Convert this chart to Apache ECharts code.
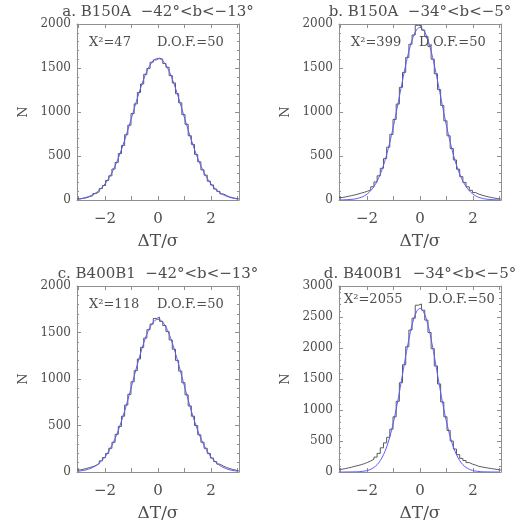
<!DOCTYPE html>
<html>
<head>
<meta charset="utf-8">
<script src="https://cdn.jsdelivr.net/npm/echarts@6/dist/echarts.min.js"></script>
<style>
  html, body { margin: 0; padding: 0; background: #fff; }
  #main { width: 523px; height: 523px; }
</style>
</head>
<body>
<div id="main"></div>
<script>
/*------------ data ------------
binCenters : bin centres of dT/sigma (51 bins, width 0.12)
histX      : histogram counts per bin
fitX       : gaussian fit at the bin centres
-------------------------------------------------------*/
var binCenters = [-3.00,-2.88,-2.76,-2.64,-2.52,-2.40,-2.28,-2.16,-2.04,-1.92,-1.80,-1.68,-1.56,-1.44,-1.32,-1.20,-1.08,-0.96,-0.84,-0.72,-0.60,-0.48,-0.36,-0.24,-0.12,
                  0.00,0.12,0.24,0.36,0.48,0.60,0.72,0.84,0.96,1.08,1.20,1.32,1.44,1.56,1.68,1.80,1.92,2.04,2.16,2.28,2.40,2.52,2.64,2.76,2.88,3.00];
var xRange = [-3.06, 3.06];

var histA = [12,19,25,38,50,73,94,130,165,222,275,352,427,528,620,742,850,982,1092,1222,1318,1428,1495,1566,1592,
             1612,
             1600,1552,1508,1414,1330,1208,1104,970,860,730,632,518,434,343,282,214,171,125,98,69,53,35,27,17,13];
var fitA  = [12,18,26,37,51,71,96,128,168,218,278,348,430,523,626,737,855,976,1098,1215,1324,1421,1501,1560,1597,
             1610,
             1597,1560,1501,1421,1324,1215,1098,976,855,737,626,523,430,348,278,218,168,128,96,71,51,37,26,18,12];

var histB = [28,35,42,50,58,68,78,88,100,115,150,205,275,360,470,600,745,915,1090,1280,1450,1620,1770,1875,1985,
             1980,
             1930,1860,1745,1600,1435,1255,1075,900,730,585,455,350,265,200,150,110,85,68,55,45,36,28,22,16,11];
var fitB  = [1,2,3,6,9,15,25,38,59,88,128,181,252,341,451,583,734,902,1082,1267,1448,1616,1759,1869,1938,
             1962,
             1938,1869,1759,1616,1448,1267,1082,902,734,583,451,341,252,181,128,88,59,38,25,15,9,6,3,2,1];

var histC = [22,30,38,48,58,70,90,120,155,200,255,320,405,490,600,720,835,970,1090,1215,1340,1440,1530,1590,1650,
             1665,
             1620,1575,1510,1420,1320,1200,1085,960,830,710,600,500,400,320,255,200,150,112,85,65,50,38,28,20,12];
var fitC  = [9,14,20,29,42,59,81,111,148,195,253,321,402,496,600,715,837,964,1093,1217,1334,1438,1524,1589,1629,
             1643,
             1629,1589,1524,1438,1334,1217,1093,964,837,715,600,496,402,321,253,195,148,111,81,59,42,29,20,14,9];

var histD = [45,55,66,78,92,104,118,135,155,178,205,240,300,390,470,560,690,890,1140,1440,1730,2020,2290,2480,2690,
             2710,
             2610,2450,2250,1990,1710,1420,1130,890,670,500,370,280,220,185,152,128,112,92,82,72,64,55,47,40,32];
var fitD  = [0,0,0,1,2,3,6,11,19,34,57,93,148,227,336,480,664,887,1146,1429,1724,2010,2265,2466,2595,
             2640,
             2595,2466,2265,2010,1724,1429,1146,887,664,480,336,227,148,93,57,34,19,11,6,3,2,1,0,0,0];

var titles   = ['a. B150A  \u221242\u00b0<b<\u221213\u00b0', 'b. B150A  \u221234\u00b0<b<\u22125\u00b0',
                'c. B400B1  \u221242\u00b0<b<\u221213\u00b0', 'd. B400B1  \u221234\u00b0<b<\u22125\u00b0'];
var chiSq    = [47, 399, 118, 2055];
var dof      = [50, 50, 50, 50];
var yMaxes   = [2000, 2000, 2000, 3000];
var xTicks   = [-3, -2, -1, 0, 1, 2, 3];
var xLabels  = [-2, 0, 2];

var FONT = 'DejaVu Serif';
var TEXT_COLOR = '#4d4d4d';
var AXIS_COLOR = '#8f8f8f';
var HIST_COLOR = '#5a5a5a';
var FIT_COLOR = '#5b5bff';

// grid boxes (px) and positions of the in-plot texts
var layout = [
    {grid: {left: 77,  top: 24,  width: 162, height: 176}, cx: 158, ty: 12,  ay: 43,  chiX: 89,  dofX: 157},
    {grid: {left: 339, top: 24,  width: 162, height: 176}, cx: 420, ty: 12,  ay: 43,  chiX: 351, dofX: 419},
    {grid: {left: 77,  top: 286, width: 162, height: 187}, cx: 158, ty: 274, ay: 305, chiX: 89,  dofX: 157},
    {grid: {left: 339, top: 286, width: 162, height: 188}, cx: 420, ty: 274, ay: 300, chiX: 344, dofX: 428}
];
var hists = [histA, histB, histC, histD];
var fits  = [fitA, fitB, fitC, fitD];

function minusFmt(v){
    return v < 0 ? '\u2212' + Math.abs(v) : String(v);
}

function pairs(values, padEdges){
    var out = [];
    if (padEdges) out.push([xRange[0], values[0]]);
    for (var i = 0; i < binCenters.length; i++) out.push([binCenters[i], values[i]]);
    if (padEdges) out.push([xRange[1], values[values.length - 1]]);
    return out;
}

var chart = echarts.init(document.getElementById('main'));
var option = {
    backgroundColor: '#fff',
    animation: false,
    grid: [], xAxis: [], yAxis: [], series: [], graphic: []
};

for (var p = 0; p < 4; p++) {
    var L = layout[p];
    option.grid.push(L.grid);
    // bottom + top x axes
    option.xAxis.push({
        type: 'value', gridIndex: p, min: xRange[0], max: xRange[1], position: 'bottom',
        name: '\u0394T/\u03c3', nameLocation: 'middle', nameGap: 33,
        nameTextStyle: {fontFamily: FONT, fontSize: 17, color: TEXT_COLOR},
        axisLine: {onZero: false, lineStyle: {color: AXIS_COLOR, width: 1}},
        axisTick: {inside: true, length: 4, customValues: xTicks, lineStyle: {color: AXIS_COLOR}},
        axisLabel: {customValues: xLabels, formatter: minusFmt, margin: 12,
                    fontFamily: FONT, fontSize: 15, color: TEXT_COLOR},
        splitLine: {show: false}
    });
    option.xAxis.push({
        type: 'value', gridIndex: p, min: xRange[0], max: xRange[1], position: 'top',
        axisLine: {onZero: false, lineStyle: {color: AXIS_COLOR, width: 1}},
        axisTick: {inside: true, length: 4, customValues: xTicks, lineStyle: {color: AXIS_COLOR}},
        axisLabel: {show: false},
        splitLine: {show: false}
    });
    // left + right y axes
    option.yAxis.push({
        type: 'value', gridIndex: p, min: 0, max: yMaxes[p], interval: 500, position: 'left',
        name: 'N', nameLocation: 'middle', nameGap: 47, nameRotate: 90,
        nameTextStyle: {fontFamily: FONT, fontSize: 13, color: TEXT_COLOR},
        axisLine: {show: true, onZero: false, lineStyle: {color: AXIS_COLOR, width: 1}},
        axisTick: {show: true, inside: true, length: 4, lineStyle: {color: AXIS_COLOR}},
        minorTick: {show: true, splitNumber: 5, length: 2, lineStyle: {color: AXIS_COLOR}},
        axisLabel: {margin: 6, fontFamily: FONT, fontSize: 12, color: TEXT_COLOR,
                    formatter: function (v) { return String(v); }},
        splitLine: {show: false}
    });
    option.yAxis.push({
        type: 'value', gridIndex: p, min: 0, max: yMaxes[p], interval: 500, position: 'right',
        axisLine: {show: true, onZero: false, lineStyle: {color: AXIS_COLOR, width: 1}},
        axisTick: {show: true, inside: true, length: 4, lineStyle: {color: AXIS_COLOR}},
        minorTick: {show: true, splitNumber: 5, length: 2, lineStyle: {color: AXIS_COLOR}},
        axisLabel: {show: false},
        splitLine: {show: false}
    });

    option.series.push({
        name: 'hist', type: 'line', step: 'middle',
        xAxisIndex: 2 * p, yAxisIndex: 2 * p,
        showSymbol: false, silent: true,
        lineStyle: {color: HIST_COLOR, width: 1},
        data: pairs(hists[p], true)
    });
    option.series.push({
        name: 'fit', type: 'line', smooth: 0.3,
        xAxisIndex: 2 * p, yAxisIndex: 2 * p,
        showSymbol: false, silent: true,
        lineStyle: {color: FIT_COLOR, width: 1},
        data: pairs(fits[p], false)
    });

    // panel title and chi-square / d.o.f. notes
    option.graphic.push({
        type: 'text', x: L.cx, y: L.ty,
        style: {text: titles[p], textAlign: 'center', textVerticalAlign: 'middle',
                fontFamily: FONT, fontSize: 15, fill: TEXT_COLOR}
    });
    option.graphic.push({
        type: 'text', x: L.chiX, y: L.ay,
        style: {text: 'X\u00b2=' + chiSq[p], textVerticalAlign: 'middle',
                fontFamily: FONT, fontSize: 13, fill: TEXT_COLOR}
    });
    option.graphic.push({
        type: 'text', x: L.dofX, y: L.ay,
        style: {text: 'D.O.F.=' + dof[p], textVerticalAlign: 'middle',
                fontFamily: FONT, fontSize: 13, fill: TEXT_COLOR}
    });
}

chart.setOption(option);
</script>
</body>
</html>
